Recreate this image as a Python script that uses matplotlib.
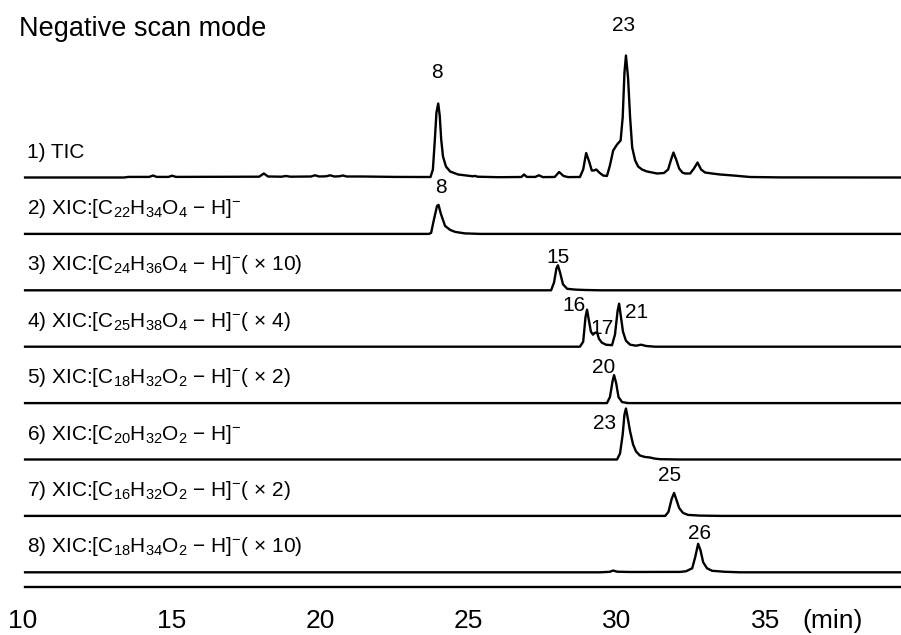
import numpy as np
import matplotlib
matplotlib.use("Agg")
import matplotlib.pyplot as plt

plt.rcParams["font.family"] = ["Liberation Sans", "DejaVu Sans"]
plt.rcParams["mathtext.fontset"] = "custom"
plt.rcParams["mathtext.rm"] = "Liberation Sans"
plt.rcParams["mathtext.it"] = "Liberation Sans:italic"
plt.rcParams["mathtext.bf"] = "Liberation Sans:bold"

# retention time (min), signal (relative height)
tic = [(10.07, 0.0), (13.40, 0.0), (13.55, 0.6), (14.25, 0.6), (14.38, 2.0), (14.50, 0.6),
       (14.90, 0.6), (15.02, 1.8), (15.15, 0.6), (17.95, 0.8), (18.11, 4.0), (18.25, 1.0),
       (18.70, 0.8), (18.85, 1.5), (19.00, 0.8), (19.70, 1.0), (19.83, 2.2), (19.97, 1.0),
       (20.20, 1.2), (20.34, 2.2), (20.48, 1.0), (20.65, 1.2), (20.77, 2.0), (20.90, 1.0),
       (21.40, 1.0), (22.50, 0.6), (23.50, 0.5), (23.72, 0.5), (23.80, 8), (23.86, 35),
       (23.92, 65), (23.98, 74), (24.03, 62), (24.08, 38), (24.14, 21), (24.24, 11),
       (24.38, 6), (24.65, 3), (25.15, 1.2), (25.22, 1.6), (25.30, 0.8), (26.00, 0.3),
       (26.78, 0.5), (26.87, 3.0), (26.96, 0.6), (27.25, 0.6), (27.37, 2.2), (27.50, 0.4),
       (27.90, 0.5), (28.05, 5.5), (28.20, 1.5), (28.35, 0.4), (28.75, 0.5), (28.86, 8),
       (28.96, 24.5), (29.06, 16), (29.15, 7), (29.22, 7), (29.30, 8), (29.40, 5),
       (29.53, 2), (29.66, 1.5), (29.76, 12), (29.87, 27), (30.00, 33), (30.12, 37),
       (30.19, 60), (30.25, 105), (30.30, 122), (30.37, 100), (30.44, 60), (30.51, 30),
       (30.61, 17), (30.71, 11), (30.84, 8), (31.01, 6), (31.18, 5), (31.35, 4),
       (31.58, 4.5), (31.72, 8), (31.82, 18), (31.90, 25), (31.99, 18), (32.09, 9),
       (32.20, 5), (32.29, 4), (32.46, 4), (32.59, 9), (32.71, 15), (32.83, 8),
       (32.96, 5), (33.20, 4), (33.47, 3), (33.91, 2), (34.48, 0.5), (35.50, 0.1),
       (39.56, 0.0)]

xic_c22h34o4 = [(10.07, 0), (23.67, 0), (23.74, 1), (23.84, 15), (23.94, 28), (23.99, 29),
                (24.07, 20), (24.21, 8), (24.38, 4), (24.55, 2), (24.88, 0.5), (25.39, 0),
                (39.56, 0)]

xic_c24h36o4 = [(10.07, 0), (27.78, 0), (27.88, 8), (27.96, 22), (28.01, 25), (28.08, 18),
                (28.18, 6), (28.32, 1.5), (28.59, 0.7), (28.92, 0.3), (29.43, 0), (39.56, 0)]

xic_c25h38o4 = [(10.07, 0), (28.75, 0), (28.86, 5), (28.94, 30), (28.99, 37), (29.06, 25),
                (29.12, 15), (29.19, 12), (29.26, 14), (29.33, 14), (29.39, 8), (29.49, 4),
                (29.63, 2), (29.83, 1.5), (29.93, 12), (30.02, 36), (30.07, 43), (30.13, 30),
                (30.20, 15), (30.30, 6), (30.44, 2), (30.64, 1), (30.81, 2), (30.98, 0.7),
                (31.28, 0), (39.56, 0)]

xic_c18h32o2 = [(10.07, 0), (29.66, 0), (29.76, 6), (29.85, 22), (29.90, 28), (29.97, 20),
                (30.05, 6), (30.17, 1), (30.37, 0), (39.56, 0)]

xic_c20h32o2 = [(10.07, 0), (30.00, 0), (30.10, 6), (30.19, 25), (30.25, 45), (30.30, 51),
                (30.37, 40), (30.44, 28), (30.54, 15), (30.64, 8), (30.77, 4), (30.94, 2.5),
                (31.11, 2), (31.25, 1), (31.45, 0.3), (32.12, 0), (39.56, 0)]

xic_c16h32o2 = [(10.07, 0), (31.62, 0), (31.73, 4), (31.84, 17), (31.92, 23), (32.00, 16),
                (32.09, 8), (32.22, 3), (32.39, 1), (32.79, 0.3), (33.47, 0), (39.56, 0)]

xic_c18h34o2 = [(10.07, 0), (29.43, 0), (29.76, 0.5), (29.87, 1.8), (30.00, 0.6),
                (30.44, 0.3), (32.12, 0.4), (32.32, 1), (32.39, 2), (32.53, 4), (32.63, 15),
                (32.73, 28.5), (32.81, 22), (32.90, 10), (33.03, 4), (33.20, 1.5),
                (33.64, 0.5), (34.14, 0), (39.56, 0)]

traces = [tic, xic_c22h34o4, xic_c24h36o4, xic_c25h38o4,
          xic_c18h32o2, xic_c20h32o2, xic_c16h32o2, xic_c18h34o2]

trace_labels = [
    "1) TIC",
    r"2) XIC:[C$_{22}$H$_{34}$O$_{4}$ − H]$^{-}$",
    r"3) XIC:[C$_{24}$H$_{36}$O$_{4}$ − H]$^{-}$( × 10)",
    r"4) XIC:[C$_{25}$H$_{38}$O$_{4}$ − H]$^{-}$( × 4)",
    r"5) XIC:[C$_{18}$H$_{32}$O$_{2}$ − H]$^{-}$( × 2)",
    r"6) XIC:[C$_{20}$H$_{32}$O$_{2}$ − H]$^{-}$",
    r"7) XIC:[C$_{16}$H$_{32}$O$_{2}$ − H]$^{-}$( × 2)",
    r"8) XIC:[C$_{18}$H$_{34}$O$_{2}$ − H]$^{-}$( × 10)",
]

# peak numbers: (trace index, label, time, height of label baseline above trace)
peak_numbers = [(0, "8", 23.94, 99.5), (0, "23", 30.22, 146.5), (1, "8", 24.06, 41),
                (2, "15", 28.01, 27), (3, "16", 28.55, 36), (3, "17", 29.51, 13),
                (3, "21", 30.66, 29), (4, "20", 29.56, 30), (5, "23", 29.58, 30.5),
                (6, "25", 31.77, 35), (7, "26", 32.79, 33)]

time_ticks = [10, 15, 20, 25, 30, 35]

W, H = 901, 635
fig = plt.figure(figsize=(W / 100, H / 100), dpi=100)
ax = fig.add_axes([0, 48 / H, 1, 587 / H])
ax.set_xlim(9.226, 39.56)
ax.set_ylim(0, 587)

row_gap = 56.4
top_base = 409.5
for i, tr in enumerate(traces):
    t, s = np.array(tr).T
    base = top_base - row_gap * i
    ax.plot(t, s + base, color="black", lw=1.7, solid_joinstyle="round")
    ax.text(10.135, base + 20, trace_labels[i], fontsize=15, va="baseline", ha="left")

for i, lab, t, dy in peak_numbers:
    ax.text(t, top_base - row_gap * i + dy, lab, fontsize=15, ha="center", va="baseline")

for side in ["top", "right", "left"]:
    ax.spines[side].set_visible(False)
ax.spines["bottom"].set_bounds(10.07, 39.56)
ax.spines["bottom"].set_linewidth(1.7)
ax.set_yticks([])
ax.set_xticks(time_ticks)
ax.tick_params(axis="x", length=0, pad=16, labelsize=19)
ax.text(36.23, -41, "(min)", fontsize=19, va="baseline", ha="left", clip_on=False)

fig.text(19 / W, 1 - 36 / H, "Negative scan mode", fontsize=19.5, va="baseline", ha="left")

fig.savefig("out.png", dpi=100)
